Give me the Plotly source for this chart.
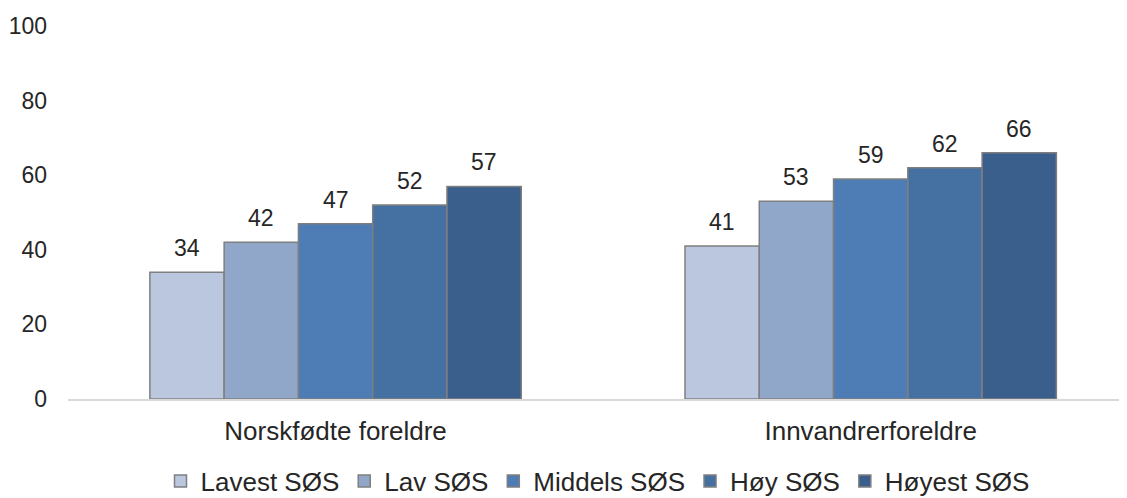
import plotly.graph_objects as go

categories = ["Norskfødte foreldre", "Innvandrerforeldre"]
series_names = ["Lavest SØS", "Lav SØS", "Middels SØS", "Høy SØS", "Høyest SØS"]
lavest = [34, 41]
lav = [42, 53]
middels = [47, 59]
hoy = [52, 62]
hoyest = [57, 66]

colors = ["#BAC7DF", "#91A7CA", "#4E7DB5", "#4570A2", "#3B5F8C"]
values = [lavest, lav, middels, hoy, hoyest]

fig = go.Figure()
for name, vals, col in zip(series_names, values, colors):
    fig.add_trace(go.Bar(
        name=name, x=categories, y=vals,
        marker=dict(color=col, line=dict(color="#7F7F7F", width=1.5)),
    ))

# value labels above bars
group_w = 0.694
bar_w = group_w / len(series_names)
for i, vals in enumerate(values):
    for j, v in enumerate(vals):
        fig.add_annotation(
            x=j - group_w / 2 + bar_w * (i + 0.5), y=v,
            text=str(v), showarrow=False, yanchor="bottom", yshift=9,
            font=dict(size=23, color="#262626"),
        )

# page body has an 8px margin, so the figure is shifted by 8px
fig.update_layout(
    width=1119, height=502,
    barmode="group", bargap=0.306, bargroupgap=0,
    plot_bgcolor="white", paper_bgcolor="white",
    font=dict(family="Liberation Sans, Arial, sans-serif", color="#262626"),
    margin=dict(l=60, r=0, t=18, b=111),
    xaxis=dict(
        range=[-0.5, 1.479], showgrid=False, showline=True,
        linecolor="#D9D9D9", linewidth=2, ticks="", automargin=False,
        tickfont=dict(size=26), ticklabelstandoff=8,
    ),
    yaxis=dict(
        range=[0, 100], tickvals=[0, 20, 40, 60, 80, 100],
        showgrid=False, zeroline=False, showline=False, automargin=False,
        tickfont=dict(size=23), ticklabelstandoff=20,
    ),
    legend=dict(
        orientation="h", x=0.5, xanchor="center", y=-0.22, yanchor="middle",
        font=dict(size=26), itemwidth=30, traceorder="normal",
    ),
)

fig.write_html("out.html")
